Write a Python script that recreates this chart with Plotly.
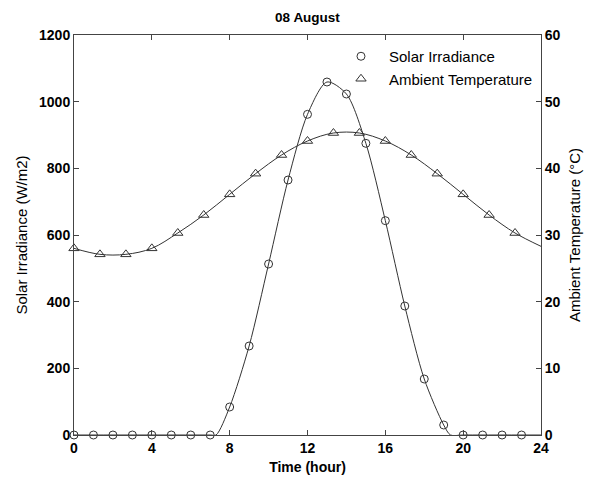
import plotly.graph_objects as go

# Data
irr_hours = list(range(24))
irr_values = [0, 0, 0, 0, 0, 0, 0, 0, 84, 267, 513, 765, 962, 1059, 1023, 875, 643, 387, 168, 30, 0, 0, 0, 0]

# smooth fitted irradiance curve
irr_curve_hours = [0, 7.0, 7.3, 8, 9, 10, 11, 12, 13, 14, 15, 16, 17, 18, 19, 19.35, 20, 24]
irr_curve_values = [0, 0, 0, 84, 267, 513, 765, 962, 1059, 1023, 875, 643, 387, 168, 30, 0, 0, 0]

temp_hours = [0, 1.333, 2.667, 4, 5.333, 6.667, 8, 9.333, 10.667, 12, 13.333, 14.667, 16, 17.333, 18.667, 20, 21.333, 22.667]
temp_values = [28.0, 27.1, 27.1, 28.0, 30.3, 33.0, 36.1, 39.2, 42.0, 44.1, 45.3, 45.3, 44.1, 42.0, 39.2, 36.1, 33.0, 30.3]
temp_curve_end_hour = 24
temp_curve_end_value = 28.3

x_ticks = [0, 4, 8, 12, 16, 20, 24]
left_ticks = [0, 200, 400, 600, 800, 1000, 1200]
right_ticks = [0, 10, 20, 30, 40, 50, 60]

line_col = "#333333"
axis_col = "#444444"
font_fam = "Liberation Sans, Arial, sans-serif"

fig = go.Figure()

fig.add_trace(go.Scatter(
    x=irr_curve_hours, y=irr_curve_values, mode="lines",
    line=dict(color=line_col, width=1, shape="spline", smoothing=0.8),
    showlegend=False, hoverinfo="skip"))

fig.add_trace(go.Scatter(
    x=temp_hours + [temp_curve_end_hour], y=temp_values + [temp_curve_end_value],
    mode="lines", yaxis="y2",
    line=dict(color=line_col, width=1, shape="spline", smoothing=1.0),
    showlegend=False, hoverinfo="skip"))

fig.add_trace(go.Scatter(
    x=irr_hours, y=irr_values, mode="markers", name="Solar Irradiance",
    marker=dict(symbol="circle-open", size=8, color=line_col, line=dict(width=1, color=line_col)),
    cliponaxis=False))

fig.add_trace(go.Scatter(
    x=temp_hours, y=temp_values, mode="markers", name="Ambient Temperature", yaxis="y2",
    marker=dict(symbol="triangle-up-open", size=9, color=line_col, line=dict(width=1, color=line_col)),
    cliponaxis=False))

fig.update_layout(
    width=595, height=479,
    margin=dict(l=74, r=54, t=35, b=44, autoexpand=False),
    paper_bgcolor="white", plot_bgcolor="white",
    font=dict(family=font_fam, color="black", size=14),
    title=dict(text="<b>08 August</b>", x=(74 + 541) / 2 / 595, xanchor="center",
               y=1 - 17 / 479, yanchor="middle", font=dict(size=13.5, family=font_fam)),
    xaxis=dict(range=[0, 24], tickvals=x_ticks, ticktext=[f"<b>{v}</b>" for v in x_ticks],
               ticks="inside", ticklen=5, tickcolor=axis_col, showline=True, linecolor=axis_col,
               linewidth=1, mirror="ticks", showgrid=False, zeroline=False, automargin=False,
               tickfont=dict(size=14),
               title=dict(text="<b>Time (hour)</b>", font=dict(size=14), standoff=7)),
    yaxis=dict(range=[0, 1200], tickvals=left_ticks, ticktext=[f"<b>{v}</b>" for v in left_ticks],
               ticks="inside", ticklen=5, tickcolor=axis_col, showline=True, linecolor=axis_col,
               linewidth=1, showgrid=False, zeroline=False, automargin=False, tickfont=dict(size=14),
               title=dict(text="Solar Irradiance (W/m2)", font=dict(size=15), standoff=7)),
    yaxis2=dict(range=[0, 60], tickvals=right_ticks, ticktext=[f"<b>{v}</b>" for v in right_ticks],
                overlaying="y", side="right",
                ticks="inside", ticklen=5, tickcolor=axis_col, showline=True, linecolor=axis_col,
                linewidth=1, showgrid=False, zeroline=False, automargin=False, tickfont=dict(size=14),
                title=dict(text="Ambient Temperature (°C)", font=dict(size=15), standoff=9)),
    legend=dict(x=0.5546, y=0.9875, xanchor="left", yanchor="top", bgcolor="rgba(0,0,0,0)",
                font=dict(size=15), itemwidth=46, tracegroupgap=0),
)

fig.write_html("out.html")
